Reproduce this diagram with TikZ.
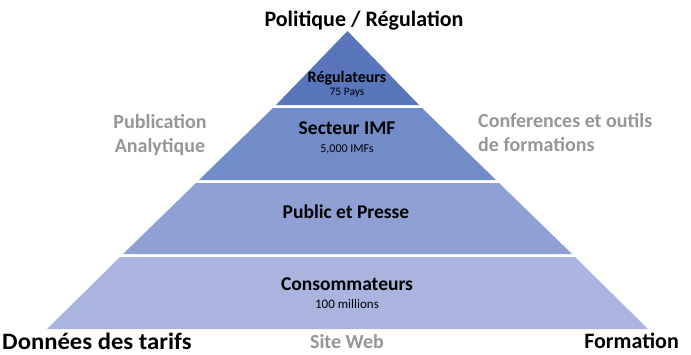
\documentclass[tikz,border=0pt]{standalone}
\usepackage{fontspec}
\setmainfont{Carlito}
\definecolor{lay1}{RGB}{89,117,188}
\definecolor{lay2}{RGB}{114,139,201}
\definecolor{lay3}{RGB}{142,160,212}
\definecolor{lay4}{RGB}{169,181,223}
\definecolor{greytxt}{RGB}{150,150,150}
\tikzset{
  layer/.style={draw=none},
  big/.style={font=\bfseries\fontsize{22bp}{26bp}\selectfont, inner sep=0pt},
  title/.style={font=\bfseries\fontsize{19.5bp}{23bp}\selectfont, inner sep=0pt},
  sub/.style={font=\fontsize{12bp}{14bp}\selectfont, inner sep=0pt},
  side/.style={font=\bfseries\fontsize{20bp}{24bp}\selectfont, text=greytxt, inner sep=0pt},
}
\begin{document}
\begin{tikzpicture}[x=1bp,y=-1bp]
\useasboundingbox (0,0) rectangle (691,354);
% layers
\fill[lay1] (347.5,31) -- (419,105) -- (276,105) -- cycle;
\fill[lay2] (273,108) -- (422,108) -- (496,180) -- (199,180) -- cycle;
\fill[lay3] (196,183) -- (499,183) -- (572,254) -- (123,254) -- cycle;
\fill[lay4] (120,257) -- (575,257) -- (648,329) -- (47,329) -- cycle;
% texts inside
\node[title, font=\bfseries\fontsize{16bp}{19bp}\selectfont] (reg) at (347,78) {Régulateurs};
\node[sub, font=\fontsize{11.5bp}{14bp}\selectfont] (regn) at (347,93) {75 Pays};
\node[title] (imf) at (347,128) {Secteur IMF};
\node[sub] (imfn) at (347,149) {5,000 IMFs};
\node[title] (pub) at (346,212) {Public et Presse};
\node[title] (cons) at (347,284) {Consommateurs};
\node[sub, font=\fontsize{13bp}{15bp}\selectfont] (consn) at (347,304) {100 millions};
% outer texts
\node[big] (pol) at (364,21) {Politique / Régulation};
\node[side, align=center] (pa) at (160,135) {Publication\\Analytique};
\node[side, align=left, anchor=west] (conf) at (478,133) {Conferences et outils\\de formations};
\node[big, font=\bfseries\fontsize{23.5bp}{27bp}\selectfont, xscale=1.05, anchor=west] (don) at (2,341) {Données des tarifs};
\node[side] (web) at (347,342) {Site Web};
\node[big, anchor=east] (form) at (679,341) {Formation};
\end{tikzpicture}
\end{document}
